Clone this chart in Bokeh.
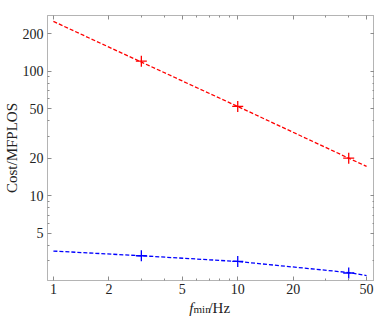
from bokeh.plotting import figure
from bokeh.layouts import column
from bokeh.models import (Range1d, LogAxis, FixedTicker, PrintfTickFormatter, Label,
                          CustomJSTickFormatter)
from bokeh.embed import file_html
from bokeh.resources import INLINE

# data
fmin_points = [3, 10, 40]
red_points = [120, 52, 20]
blue_points = [3.3, 2.97, 2.4]

fit_x = [1, 3, 10, 40, 50]
red_fit = [250, 118, 52, 20, 17.2]
blue_fit = [3.6, 3.3, 2.97, 2.42, 2.29]

x_major = [1, 2, 5, 10, 20, 50]
x_minor = [3, 4, 6, 7, 8, 9, 30, 40]
y_major = [5, 10, 20, 50, 100, 200]
y_minor = [3, 4, 6, 7, 8, 9, 30, 40, 60, 70, 80, 90]

FONT = "Liberation Serif"
FRAME = "#b4b4b4"
TICK = "#8c8c8c"

p = figure(width=374, height=300, x_axis_type="log", y_axis_type="log",
           x_range=Range1d(0.929, 55.2), y_range=Range1d(2.09, 279),
           output_backend="svg", toolbar_location=None,
           min_border_left=0, min_border_right=0, min_border_top=15, min_border_bottom=20)
p.grid.visible = False
p.outline_line_color = FRAME
p.background_fill_color = "white"
p.border_fill_color = "white"

# main axes
xa = p.xaxis[0]
ya = p.yaxis[0]
xa.ticker = FixedTicker(ticks=x_major, minor_ticks=x_minor)
ya.ticker = FixedTicker(ticks=y_major, minor_ticks=y_minor)
xa.formatter = PrintfTickFormatter(format="%d")
ya.formatter = PrintfTickFormatter(format="%d")
for ax in (xa, ya):
    ax.axis_line_color = FRAME
    ax.major_tick_line_color = TICK
    ax.minor_tick_line_color = TICK
    ax.major_tick_in = 4
    ax.major_tick_out = 0
    ax.minor_tick_in = 2
    ax.minor_tick_out = 0
    ax.major_label_text_font = FONT
    ax.major_label_text_font_size = "14px"
    ax.major_label_text_color = "#222222"
    ax.axis_label_text_font = FONT
    ax.axis_label_text_font_style = "normal"
    ax.axis_label_text_color = "#222222"
xa.major_label_standoff = 3
ya.major_label_standoff = 4
ya.axis_label = "Cost/MFPLOS"
ya.axis_label_text_font_size = "15px"
ya.axis_label_standoff = 0
xa.axis_label = None

# mirrored axes without labels
for side in ("right", "above"):
    ax = LogAxis(ticker=FixedTicker(ticks=(y_major if side == "right" else x_major),
                                    minor_ticks=(y_minor if side == "right" else x_minor)),
                 formatter=CustomJSTickFormatter(code="return ''"))
    ax.axis_line_color = FRAME
    ax.major_tick_line_color = TICK
    ax.minor_tick_line_color = TICK
    ax.major_tick_in = 4
    ax.major_tick_out = 0
    ax.minor_tick_in = 2
    ax.minor_tick_out = 0
    ax.major_label_text_font_size = "1px"
    ax.major_label_standoff = 0
    p.add_layout(ax, side)

# fitted lines
p.line(fit_x, red_fit, line_color="#ff0000", line_width=1.3, line_dash="4 2")
p.line(fit_x, blue_fit, line_color="#0000ff", line_width=1.3, line_dash="4 2")
# markers
p.scatter(fmin_points, red_points, marker="cross", size=11, line_color="#ff0000", line_width=1.3)
p.scatter(fmin_points, blue_points, marker="cross", size=11, line_color="#0000ff", line_width=1.3)

# x axis label strip: f_min/Hz
q = figure(width=374, height=16, x_range=Range1d(0, 374), y_range=Range1d(0, 16),
           output_backend="svg", toolbar_location=None,
           x_axis_location=None, y_axis_location=None, min_border=0)
q.grid.visible = False
q.outline_line_color = None
q.border_fill_color = "white"
q.background_fill_color = "white"
lx = 162
q.add_layout(Label(x=lx, y=9, text="f",
                   text_font=FONT, text_font_style="italic", text_font_size="15px",
                   text_color="#222222", text_baseline="alphabetic"))
q.add_layout(Label(x=lx + 5, y=8, text="min",
                   text_font=FONT, text_font_size="11px",
                   text_color="#222222", text_baseline="alphabetic"))
q.add_layout(Label(x=lx + 22, y=9, text="/Hz",
                   text_font=FONT, text_font_size="15px",
                   text_color="#222222", text_baseline="alphabetic"))

layout = column(p, q, spacing=0)
open("out.html", "w").write(file_html(layout, INLINE))
